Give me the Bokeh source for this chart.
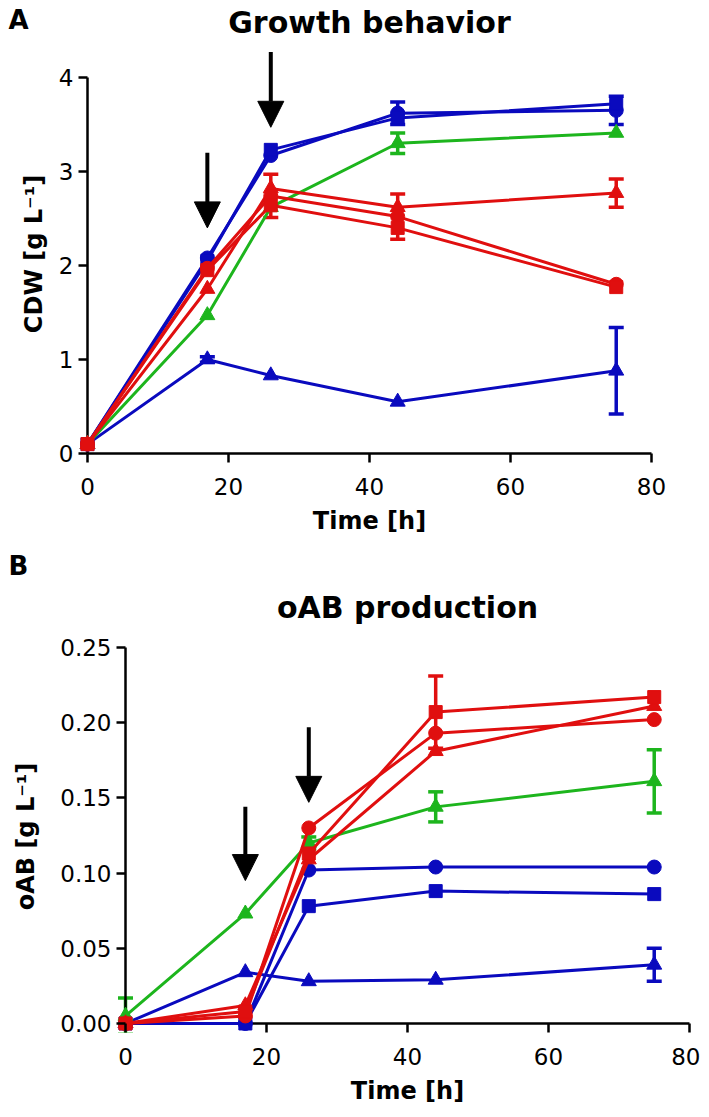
from bokeh.plotting import figure
from bokeh.models import (Range1d, FixedTicker, Label, Arrow, NormalHead, Whisker,
                          ColumnDataSource, TeeHead, NumeralTickFormatter)
from bokeh.embed import file_html
from bokeh.resources import INLINE

# ---------------- data ----------------
time_h = [0, 17, 26, 44, 75]

# Panel A: cell dry weight [g/L]
cdw_blue_circle = [0.10, 2.08, 3.17, 3.62, 3.65]
cdw_blue_circle_err = [0, 0, 0, 0.12, 0.15]
cdw_blue_square = [0.10, 2.05, 3.23, 3.57, 3.72]
cdw_blue_square_err = [0, 0, 0, 0, 0]
cdw_blue_tri = [0.10, 1.00, 0.83, 0.55, 0.88]
cdw_blue_tri_err = [0, 0.03, 0, 0, 0.46]
cdw_green_tri = [0.10, 1.47, 2.62, 3.30, 3.41]
cdw_green_tri_err = [0, 0, 0, 0.11, 0]
cdw_red_tri = [0.10, 1.75, 2.82, 2.62, 2.77]
cdw_red_tri_err = [0, 0, 0, 0, 0.15]
cdw_red_circle = [0.10, 1.97, 2.74, 2.52, 1.80]
cdw_red_circle_err = [0, 0, 0.23, 0.24, 0]
cdw_red_square = [0.10, 1.95, 2.64, 2.40, 1.77]
cdw_red_square_err = [0, 0, 0, 0, 0]

# Panel B: oAB [g/L]
oab_blue_circle = [0.0, 0.0, 0.102, 0.104, 0.104]
oab_blue_circle_err = [0, 0, 0, 0, 0]
oab_blue_square = [0.0, 0.0, 0.078, 0.088, 0.086]
oab_blue_square_err = [0, 0, 0, 0, 0]
oab_blue_tri = [0.0, 0.034, 0.028, 0.029, 0.039]
oab_blue_tri_err = [0, 0, 0, 0, 0.011]
oab_green_tri = [0.005, 0.073, 0.120, 0.144, 0.161]
oab_green_tri_err = [0.012, 0, 0.004, 0.010, 0.021]
oab_red_circle = [0.0, 0.005, 0.130, 0.193, 0.202]
oab_red_circle_err = [0, 0, 0, 0, 0]
oab_red_square = [0.0, 0.008, 0.113, 0.207, 0.217]
oab_red_square_err = [0, 0, 0, 0.024, 0]
oab_red_tri = [0.0, 0.012, 0.109, 0.181, 0.211]
oab_red_tri_err = [0, 0, 0, 0, 0]

# feeding arrows (time, top, tip)
arrow_time = [17, 26]
cdw_arrow_top = [3.20, 4.27]
cdw_arrow_tip = [2.40, 3.47]
oab_arrow_top = [0.144, 0.197]
oab_arrow_tip = [0.095, 0.147]

x_ticks = [0, 20, 40, 60, 80]
cdw_ticks = [0, 1, 2, 3, 4]
oab_ticks = [0, 0.05, 0.10, 0.15, 0.20, 0.25]

BLUE = "#0A0ABE"
GREEN = "#1DB51D"
RED = "#E00F0F"
FONT = "DejaVu Sans"


def style_axes(p, yticks, fmt=None, ylabel_standoff=10):
    p.xaxis.ticker = FixedTicker(ticks=x_ticks)
    p.yaxis.ticker = FixedTicker(ticks=yticks)
    if fmt:
        p.yaxis.formatter = NumeralTickFormatter(format=fmt)
    for ax in (p.xaxis, p.yaxis):
        ax.axis_line_color = None
        ax.major_tick_line_width = 2.5
        ax.major_tick_line_color = "black"
        ax.major_tick_out = 0
        ax.major_tick_in = 9
        ax.minor_tick_out = 0
        ax.minor_tick_in = 0
        ax.major_label_text_font = FONT
        ax.major_label_text_font_size = "23px"
        ax.major_label_text_color = "black"
        ax.axis_label_text_font = FONT
        ax.axis_label_text_font_style = "bold"
        ax.axis_label_text_font_size = "24px"
        ax.axis_label_text_color = "black"
    p.xaxis.major_label_standoff = 15
    p.yaxis.major_label_standoff = 5
    p.xaxis.axis_label_standoff = 9
    p.yaxis.axis_label_standoff = ylabel_standoff
    p.xgrid.visible = False
    p.ygrid.visible = False
    p.outline_line_color = None
    # axis lines through the origin, spanning the tick range
    p.segment(x0=[x_ticks[0], x_ticks[0]], y0=[yticks[0], yticks[0]],
              x1=[x_ticks[-1], x_ticks[0]], y1=[yticks[0], yticks[-1]],
              line_color="black", line_width=2.5)
    p.title.text_font = FONT
    p.title.text_font_style = "bold"
    p.title.text_font_size = "30px"
    p.title.text_color = "black"
    p.title.align = "center"


def add_series(p, vals, errs, color, marker, size):
    p.line(time_h, vals, line_color=color, line_width=3)
    p.scatter(time_h, vals, marker=marker, size=size, fill_color=color,
              line_color=color)
    ex = [t for t, e in zip(time_h, errs) if e > 0]
    up = [v + e for v, e in zip(vals, errs) if e > 0]
    lo = [v - e for v, e in zip(vals, errs) if e > 0]
    if ex:
        src = ColumnDataSource(dict(x=ex, upper=up, lower=lo))
        w = Whisker(base="x", upper="upper", lower="lower", source=src,
                    line_color=color, line_width=3.5,
                    upper_head=TeeHead(size=15, line_color=color, line_width=3.5),
                    lower_head=TeeHead(size=15, line_color=color, line_width=3.5))
        p.add_layout(w)


def add_arrows(p, tops, tips):
    for x, t0, t1 in zip(arrow_time, tops, tips):
        p.add_layout(Arrow(x_start=x, y_start=t0, x_end=x, y_end=t1,
                           line_color="black", line_width=4,
                           end=NormalHead(size=26, fill_color="black",
                                          line_color="black", line_width=1)))


def panel_letter(p, text, x, y, side):
    # placed in a side panel so that it is not clipped to the plot frame
    p.add_layout(Label(x=x, y=y, x_units="screen", y_units="screen",
                       text=text, text_font=FONT, text_font_style="bold",
                       text_font_size="26px", text_align="left",
                       text_baseline="middle", text_color="black"), side)


# ---------------- Panel A ----------------
pa = figure(width=700, height=542, x_range=Range1d(-1.277, 81.28),
            y_range=Range1d(-0.0957, 4.34), output_backend="svg",
            toolbar_location=None, min_border_left=78, min_border_right=40,
            min_border_top=45, min_border_bottom=80,
            title="Growth behavior")
style_axes(pa, cdw_ticks, ylabel_standoff=8)
pa.title.standoff = 8
pa.title.vertical_align = "top"
pa.xaxis.axis_label = "Time [h]"
pa.yaxis.axis_label = "CDW [g L\u207b\u00b9]"

add_series(pa, cdw_blue_tri, cdw_blue_tri_err, BLUE, "triangle", 15)
add_series(pa, cdw_blue_circle, cdw_blue_circle_err, BLUE, "circle", 14)
add_series(pa, cdw_blue_square, cdw_blue_square_err, BLUE, "square", 13)
add_series(pa, cdw_green_tri, cdw_green_tri_err, GREEN, "triangle", 15)
add_series(pa, cdw_red_tri, cdw_red_tri_err, RED, "triangle", 15)
add_series(pa, cdw_red_circle, cdw_red_circle_err, RED, "circle", 14)
add_series(pa, cdw_red_square, cdw_red_square_err, RED, "square", 13)
add_arrows(pa, cdw_arrow_top, cdw_arrow_tip)
panel_letter(pa, "A", -652, 443, "right")

# ---------------- Panel B ----------------
pb = figure(width=700, height=570, x_range=Range1d(-1.277, 81.28),
            y_range=Range1d(-0.006, 0.2546), output_backend="svg",
            toolbar_location=None, min_border_left=116, min_border_right=2,
            min_border_top=98, min_border_bottom=80,
            title="oAB production")
style_axes(pb, oab_ticks, fmt="0.00", ylabel_standoff=17)
pb.title.standoff = -29
pb.xaxis.axis_label = "Time [h]"
pb.yaxis.axis_label = "oAB [g L\u207b\u00b9]"

add_series(pb, oab_blue_tri, oab_blue_tri_err, BLUE, "triangle", 15)
add_series(pb, oab_blue_circle, oab_blue_circle_err, BLUE, "circle", 14)
add_series(pb, oab_blue_square, oab_blue_square_err, BLUE, "square", 13)
add_series(pb, oab_green_tri, oab_green_tri_err, GREEN, "triangle", 15)
add_series(pb, oab_red_tri, oab_red_tri_err, RED, "triangle", 15)
add_series(pb, oab_red_circle, oab_red_circle_err, RED, "circle", 14)
add_series(pb, oab_red_square, oab_red_square_err, RED, "square", 13)
add_arrows(pb, oab_arrow_top, oab_arrow_tip)
panel_letter(pb, "B", -108, 75, "above")

open("out.html", "w").write(file_html([pa, pb], INLINE))
